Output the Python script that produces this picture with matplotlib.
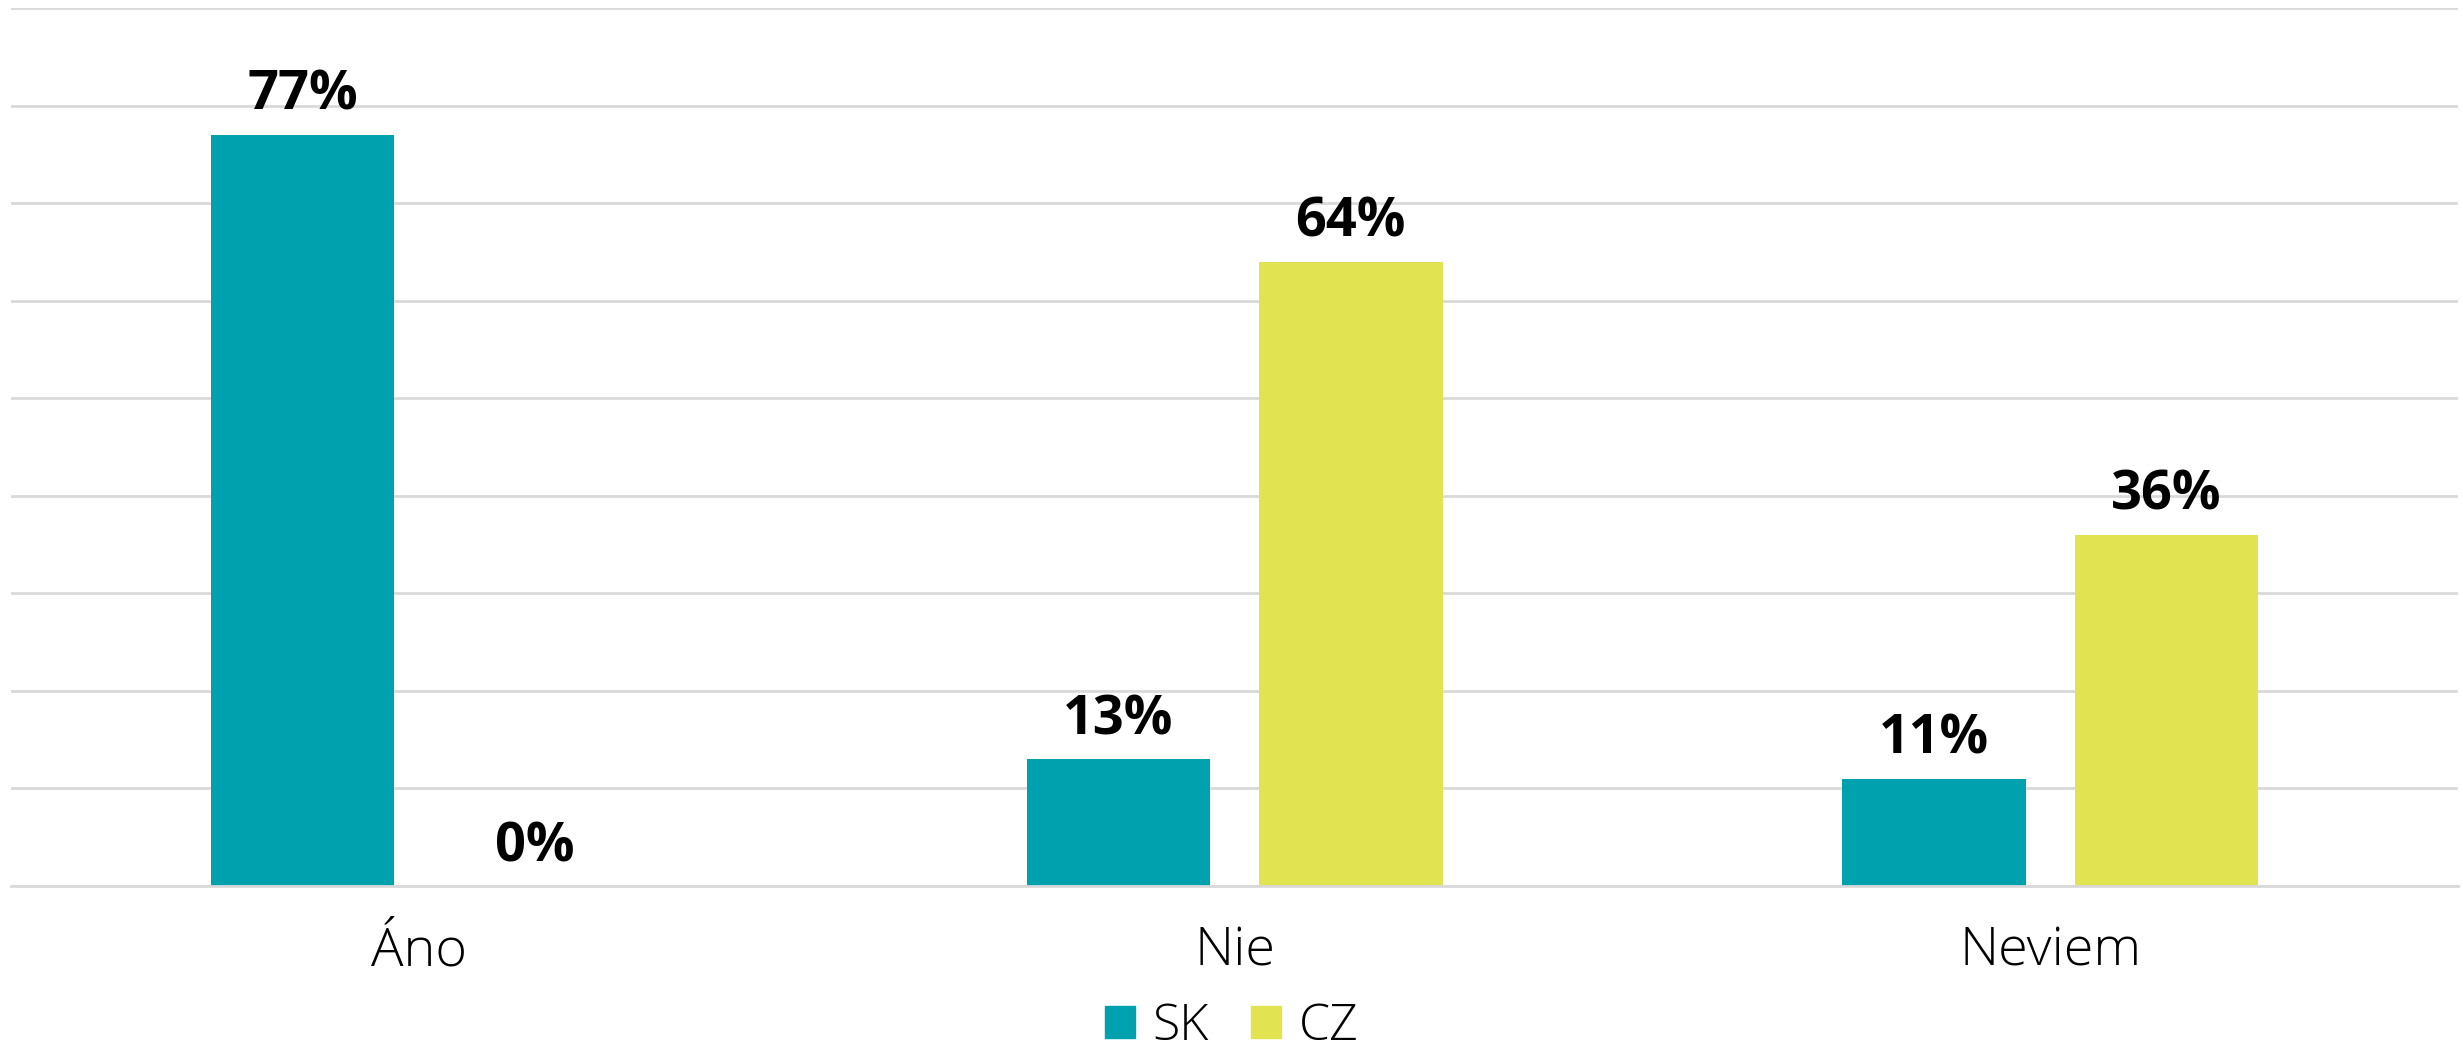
import numpy as np
import matplotlib.pyplot as plt
from matplotlib.patches import Patch

categories = ["Áno", "Nie", "Neviem"]
sk_values = [77, 13, 11]
cz_values = [0, 64, 36]
series_names = ["SK", "CZ"]

sk_color = "#00A1AF"
cz_color = "#E2E350"
grid_color = "#D9D9D9"

plt.rcParams['font.family'] = ['Open Sans', 'DejaVu Sans']

fig = plt.figure(figsize=(24.63, 10.63), dpi=100)
ax = fig.add_axes([0.0045, 0.1665, 0.9935, 0.826])

x = np.arange(len(categories))
w = 0.225
off = 0.1425

b1 = ax.bar(x - off, sk_values, w, color=sk_color, zorder=2)
b2 = ax.bar(x + off, cz_values, w, color=cz_color, zorder=2)

for bars, vals in [(b1, sk_values), (b2, cz_values)]:
    for r, v in zip(bars, vals):
        ax.annotate(f"{v}%", (r.get_x() + r.get_width() / 2, v),
                    xytext=(0, 18), textcoords="offset points",
                    ha="center", va="baseline", fontsize=39,
                    fontweight="bold", color="black")

ax.set_xlim(-0.5, 2.5)
ax.set_ylim(0, 90)
ax.set_yticks(np.arange(0, 91, 10))
ax.yaxis.grid(True, color=grid_color, linewidth=2)
ax.set_axisbelow(True)
ax.tick_params(axis="y", left=False, labelleft=False)
ax.set_xticks(x)
ax.set_xticklabels(categories, fontsize=39, fontweight="light")
ax.tick_params(axis="x", length=0, pad=28)
for s in ["top", "right", "left"]:
    ax.spines[s].set_visible(False)
ax.spines["bottom"].set_color(grid_color)
ax.spines["bottom"].set_linewidth(2)

handles = [Patch(color=sk_color), Patch(color=cz_color)]
fig.legend(handles, series_names, loc="center", bbox_to_anchor=(0.5, 0.034),
           ncol=2, frameon=False, prop={"size": 36, "weight": "light"},
           handlelength=0.6, handleheight=0.6, handletextpad=0.35,
           columnspacing=0.85, borderpad=0, borderaxespad=0)

fig.savefig("out.png", dpi=100)
